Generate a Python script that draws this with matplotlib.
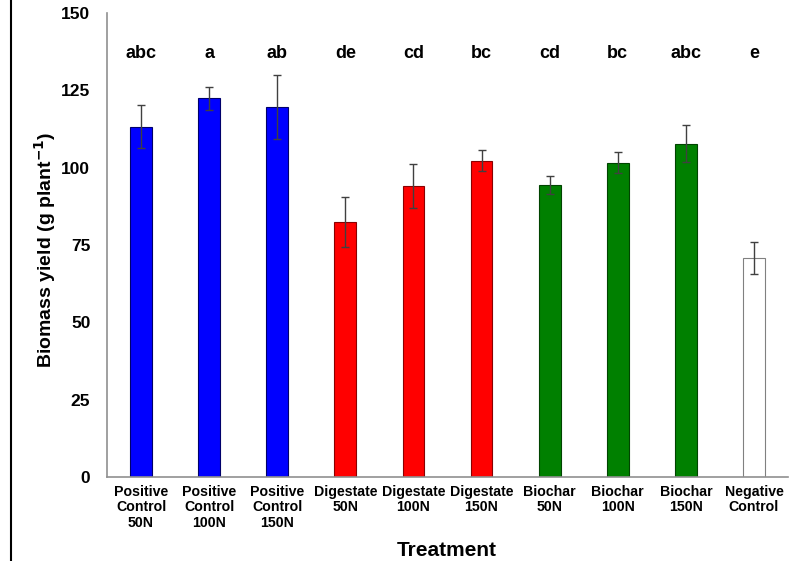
import matplotlib
matplotlib.use("Agg")
import matplotlib.pyplot as plt
from matplotlib.lines import Line2D

plt.rcParams['font.family'] = ['Liberation Sans', 'DejaVu Sans']

treatments = ["Positive\nControl\n50N", "Positive\nControl\n100N", "Positive\nControl\n150N",
              "Digestate\n50N", "Digestate\n100N", "Digestate\n150N",
              "Biochar\n50N", "Biochar\n100N", "Biochar\n150N", "Negative\nControl"]
yield_mean = [113.2, 122.4, 119.6, 82.4, 94.1, 102.2, 94.4, 101.6, 107.8, 70.8]
yield_err = [7.0, 3.8, 10.2, 8.0, 7.2, 3.4, 3.0, 3.4, 6.1, 5.2]
letters = ["abc", "a", "ab", "de", "cd", "bc", "cd", "bc", "abc", "e"]
colors = ["#0000ff", "#0000ff", "#0000ff", "#ff0000", "#ff0000", "#ff0000",
          "#008000", "#008000", "#008000", "#ffffff"]
edges = ["#00006a", "#00006a", "#00006a", "#8a0000", "#8a0000", "#8a0000",
         "#004400", "#004400", "#004400", "#808080"]

fig = plt.figure(figsize=(8.02, 5.61), dpi=100)
ax = fig.add_axes([107/802, 1-477/561, (788-107)/802, (477-13)/561])

x = list(range(len(treatments)))
ax.bar(x, yield_mean, width=0.32, color=colors, edgecolor=edges, linewidth=0.8, zorder=2)
ax.errorbar(x, yield_mean, yerr=yield_err, fmt='none', ecolor='#404040',
            elinewidth=1.0, capsize=3, capthick=1.0, zorder=3)
for xi, lab in zip(x, letters):
    ax.text(xi, 137.0, lab, ha='center', va='center', fontsize=13, fontweight='bold')

ax.set_xlim(-0.5, len(treatments) - 0.5)
ax.set_ylim(0, 150)
ax.set_yticks([0, 25, 50, 75, 100, 125, 150])
ax.set_xticks(x)
ax.set_xticklabels(treatments, fontsize=10.2, fontweight='bold', linespacing=1.1)
for lbl in ax.get_yticklabels():
    lbl.set_fontsize(12.5)
    lbl.set_fontweight('bold')
ax.tick_params(axis='both', length=0)
ax.tick_params(axis='y', pad=12)
ax.tick_params(axis='x', pad=6)

for side in ['top', 'right']:
    ax.spines[side].set_visible(False)
for side in ['left', 'bottom']:
    ax.spines[side].set_color('#909090')
    ax.spines[side].set_linewidth(1.2)

fig.text(45/802, 1-250/561, "Biomass yield (g plant$^{\\mathbf{-1}}$)", rotation=90,
         ha='center', va='center', fontsize=14, fontweight='bold')
fig.text(447/802, 1-551/561, "Treatment", ha='center', va='center', fontsize=15, fontweight='bold')

fig.add_artist(Line2D([11/802, 11/802], [0, 1], transform=fig.transFigure, color='black', linewidth=1.5))

fig.savefig("out.png", dpi=100)
